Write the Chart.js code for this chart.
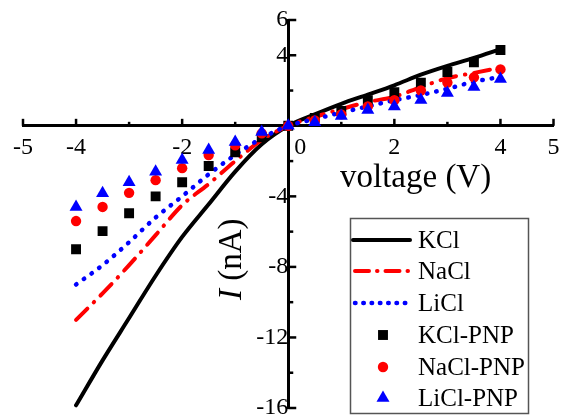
<!DOCTYPE html>
<html>
<head>
<meta charset="utf-8">
<script src="https://cdn.jsdelivr.net/npm/chart.js@4.4.0/dist/chart.umd.min.js"></script>
<style>
html,body{margin:0;padding:0;background:#fff;}
#c{display:block;}
</style>
</head>
<body>
<canvas id="c" width="561" height="419"></canvas>
<script>
// ---- data ----
const voltage = [-4,-3.5,-3,-2.5,-2,-1.5,-1,-0.5,0,0.5,1,1.5,2,2.5,3,3.5,4];
const kclLine  = [-15.85,-13.3,-10.9,-8.5,-6.3,-4.45,-2.6,-1.05,0,0.65,1.25,1.77,2.3,2.9,3.4,3.85,4.35];
const naclLine = [-11.0,-9.5,-7.9,-6.2,-4.5,-3.3,-2.0,-0.8,0,0.5,0.95,1.35,1.65,2.2,2.7,3.0,3.3];
const liclLine = [-9.0,-7.9,-6.6,-5.2,-4.0,-2.75,-1.65,-0.7,0,0.38,0.75,1.1,1.45,1.75,2.1,2.5,2.77];
const kclPNP   = [-7.0,-5.97,-4.96,-4.0,-3.2,-2.28,-1.5,-0.65,0,0.45,0.85,1.45,1.9,2.45,3.05,3.6,4.3];
const naclPNP  = [-5.4,-4.6,-3.8,-3.08,-2.4,-1.66,-1.1,-0.43,0,0.3,0.65,1.1,1.45,2.0,2.45,2.75,3.2];
const liclPNP  = [-4.6,-3.82,-3.2,-2.6,-1.94,-1.37,-0.92,-0.35,0,0.2,0.55,0.9,1.1,1.46,1.86,2.2,2.65];
const xTickLabels = ['-5','-4','-2','0','2','4','5'];
const yTickLabels = ['-16','-12','-8','-4','4','6'];
const legendLabels = ['KCl','NaCl','LiCl','KCl-PNP','NaCl-PNP','LiCl-PNP'];
const xTitle = 'voltage (V)';
const yTitleItalic = 'I';
const yTitleRest = ' (nA)';

const pts = (ys) => voltage.map((v, i) => ({x: v, y: ys[i]}));
const SERIF = "'Liberation Serif', 'Times New Roman', serif";
Chart.defaults.font.family = SERIF;
Chart.defaults.font.size = 24;
Chart.defaults.color = '#000';

const lineSets = [
  {label: legendLabels[0], data: pts(kclLine), borderColor: '#000', borderWidth: 4, borderDash: []},
  {label: legendLabels[1], data: pts(naclLine), borderColor: '#ff0000', borderWidth: 4, borderDash: [16, 9, 0.5, 9]},
  {label: legendLabels[2], data: pts(liclLine), borderColor: '#0000ff', borderWidth: 4.5, borderDash: [0.5, 9]}
].map((d, i) => Object.assign(d, {
  showLine: true, pointRadius: 0, pointHoverRadius: 0, borderCapStyle: 'round',
  cubicInterpolationMode: 'monotone', fill: false, order: 6 - i
}));

const pointSets = [
  {label: legendLabels[3], data: pts(kclPNP), pointStyle: 'rect', pointRadius: 7, backgroundColor: '#000', borderColor: '#000', order: 3},
  {label: legendLabels[4], data: pts(naclPNP), pointStyle: 'circle', pointRadius: 5.2, backgroundColor: '#ff0000', borderColor: '#ff0000', order: 2},
  {label: legendLabels[5], data: pts(liclPNP), pointStyle: 'triangle', pointRadius: 7.5, backgroundColor: '#0000ff', borderColor: '#0000ff', order: 1}
].map(d => Object.assign(d, {showLine: false, pointBorderWidth: 0, borderWidth: 0}));

// tick marks (inward, major/minor) drawn from the library scales
const tickMarks = {
  id: 'tickMarks',
  afterDraw(chart) {
    const {ctx} = chart;
    const xs = chart.scales.x, ys = chart.scales.y;
    const x0 = xs.getPixelForValue(0), y0 = ys.getPixelForValue(0);
    ctx.save();
    ctx.strokeStyle = '#000';
    ctx.lineWidth = 2.5;
    ctx.lineCap = 'butt';
    xs.ticks.forEach(t => {
      const v = t.value;
      if (v === 0) return;
      const px = xs.getPixelForValue(v);
      const len = (v % 2 === 0 || Math.abs(v) === 5) ? 7 : 4;
      ctx.beginPath(); ctx.moveTo(px, y0); ctx.lineTo(px, y0 - len); ctx.stroke();
    });
    ys.ticks.forEach(t => {
      const v = t.value;
      if (v === 0) return;
      const py = ys.getPixelForValue(v);
      const len = (v % 4 === 0 || v === 6) ? 8 : 5;
      ctx.beginPath(); ctx.moveTo(x0, py); ctx.lineTo(x0 + len, py); ctx.stroke();
    });
    ctx.restore();
  }
};

// axis titles
const axisTitles = {
  id: 'axisTitles',
  afterDraw(chart) {
    const {ctx} = chart;
    ctx.save();
    ctx.fillStyle = '#000';
    ctx.textBaseline = 'alphabetic';
    ctx.textAlign = 'left';
    ctx.font = '33px ' + SERIF;
    ctx.fillText(xTitle, 340, 187);
    ctx.translate(241, 300);
    ctx.rotate(-Math.PI / 2);
    ctx.font = 'italic 33px ' + SERIF;
    ctx.fillText(yTitleItalic, 0, 0);
    const w = ctx.measureText(yTitleItalic).width;
    ctx.font = '33px ' + SERIF;
    ctx.fillText(yTitleRest, w, 0);
    ctx.restore();
  }
};

// legend box
const legendBox = {
  id: 'legendBox',
  afterDraw(chart) {
    const {ctx} = chart;
    const bx = 350.5, by = 218.5, bw = 178, bh = 195;
    const rows = [240, 271, 303, 335, 367, 398];
    ctx.save();
    ctx.fillStyle = '#fff';
    ctx.fillRect(bx, by, bw, bh);
    ctx.strokeStyle = '#555';
    ctx.lineWidth = 1.5;
    ctx.strokeRect(bx, by, bw, bh);
    const sets = chart.data.datasets;
    sets.forEach((d, i) => {
      const y = rows[i];
      if (d.showLine) {
        ctx.save();
        ctx.strokeStyle = d.borderColor;
        ctx.lineWidth = d.borderWidth;
        ctx.lineCap = 'round';
        ctx.setLineDash(d.borderDash.length ? (i === 1 ? [14, 8, 0.5, 8] : [0.5, 7.8]) : []);
        ctx.beginPath();
        ctx.moveTo(i === 0 ? 353 : 355, y);
        ctx.lineTo(410, y);
        ctx.stroke();
        ctx.restore();
      } else {
        ctx.fillStyle = d.backgroundColor;
        ctx.beginPath();
        if (d.pointStyle === 'rect') {
          const s = d.pointRadius * Math.SQRT1_2;
          ctx.rect(383 - s, y - s, 2 * s, 2 * s);
        } else if (d.pointStyle === 'circle') {
          ctx.arc(383, y, d.pointRadius, 0, Math.PI * 2);
        } else {
          const r = d.pointRadius;
          for (let k = 0; k < 3; k++) {
            const a = k * 2 * Math.PI / 3;
            const px = 383 + Math.sin(a) * r, py = y - Math.cos(a) * r;
            if (k === 0) ctx.moveTo(px, py); else ctx.lineTo(px, py);
          }
          ctx.closePath();
        }
        ctx.fill();
      }
      ctx.fillStyle = '#000';
      ctx.font = '25px ' + SERIF;
      ctx.textAlign = 'left';
      ctx.textBaseline = 'middle';
      ctx.fillText(d.label, 418, y + 1);
    });
    ctx.restore();
  }
};

new Chart(document.getElementById('c'), {
  type: 'scatter',
  data: {datasets: lineSets.concat(pointSets)},
  options: {
    responsive: false,
    animation: false,
    devicePixelRatio: 1,
    layout: {padding: {left: 23, right: 5, top: 20, bottom: 11}},
    plugins: {legend: {display: false}, tooltip: {enabled: false}},
    scales: {
      x: {
        type: 'linear', min: -5, max: 5, position: {y: 0},
        grid: {display: false, drawTicks: false},
        border: {display: true, color: '#000', width: 3},
        afterFit: (s) => { s.paddingLeft = 0; s.paddingRight = 0; },
        ticks: {
          stepSize: 1, autoSkip: false, maxRotation: 0, padding: 10, color: '#000',
          font: {family: SERIF, size: 24, lineHeight: 1},
          callback: (v) => {
            const s = String(v);
            if (!xTickLabels.includes(s)) return '';
            return s === '0' ? '    0' : s;
          }
        }
      },
      y: {
        type: 'linear', min: -16, max: 6, position: {x: 0},
        grid: {display: false, drawTicks: false},
        border: {display: true, color: '#000', width: 3},
        afterFit: (s) => { s.paddingTop = 0; s.paddingBottom = 0; },
        ticks: {
          stepSize: 2, autoSkip: false, padding: 10, color: '#000',
          font: {family: SERIF, size: 24, lineHeight: 1},
          callback: (v) => yTickLabels.includes(String(v)) ? String(v) : ''
        }
      }
    }
  },
  plugins: [tickMarks, axisTitles, legendBox]
});
</script>
</body>
</html>
